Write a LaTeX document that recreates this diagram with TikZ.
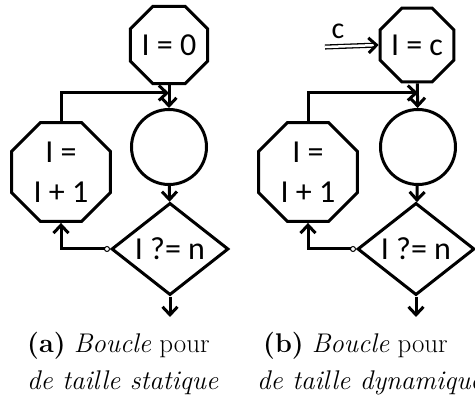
\documentclass[tikz,border=0pt]{standalone}
\usepackage{fontspec}
\newfontfamily\calfont{Carlito}
\usetikzlibrary{shapes.geometric,arrows.meta}
\tikzset{
  oct/.style={regular polygon, regular polygon sides=8, draw, line width=3pt, inner sep=0pt, font=\calfont\fontsize{32}{40}\selectfont, align=center},
  circ/.style={circle, draw, line width=3pt, minimum size=75pt, inner sep=0pt},
  dia/.style={diamond, draw, line width=3pt, minimum width=117pt, minimum height=77pt, inner sep=0pt, font=\calfont\fontsize{32}{40}\selectfont},
  arr/.style={line width=3pt, -{Straight Barb[length=8pt,width=15pt]}},
  capt/.style={anchor=base west, inner sep=0pt, font=\fontsize{27}{37}\selectfont}
}
\begin{document}
\begin{tikzpicture}[x=1pt,y=-1pt]
\useasboundingbox (0,0) rectangle (475,398);
% ---- (a)
\node[oct, minimum size=76pt] (octA) at (169,45) {I = 0};
\node[circ] (cirA) at (169,147) {};
\node[dia] (diaA) at (170,249) {I ?= n};
\node[oct, minimum size=107pt] (bigA) at (61,172) {I =\\[0pt]I + 1};
\coordinate (jA) at (169,93);
\coordinate (endA) at (170,317);
\draw[arr] (octA) -- (cirA);
\draw[arr] (bigA.north) |- (jA);
\draw[arr] (cirA) -- (diaA);
\draw[line width=3pt, {Circle[open,length=6pt,line width=1pt]}-{Straight Barb[length=8pt,width=15pt]}] (diaA.west) -| (bigA.south);
\draw[arr] (diaA.south) -- (endA);
% ---- (b)
\node[oct, minimum size=76pt] (octB) at (417,45) {I = c};
\node[circ] (cirB) at (418,147) {};
\node[dia] (diaB) at (416,249) {I ?= n};
\node[oct, minimum size=107pt] (bigB) at (308,172) {I =\\[0pt]I + 1};
\coordinate (jB) at (418,93);
\coordinate (endB) at (416,317);
\coordinate (cIn) at (325,47);
\draw[arr] (octB) -- (cirB);
\draw[arr] (bigB.north) |- (jB);
\draw[arr] (cirB) -- (diaB);
\draw[line width=3pt, {Circle[open,length=6pt,line width=1pt]}-{Straight Barb[length=8pt,width=15pt]}] (diaB.west) -| (bigB.south);
\draw[arr] (diaB.south) -- (endB);
\draw[double, double distance=2.5pt, line width=1.3pt, -{Straight Barb[length=8pt,width=15pt,line width=3pt]}] (cIn) -- (octB.west);
\node[font=\calfont\fontsize{30}{30}\selectfont, inner sep=0pt] (cl) at (338,31) {c};
% ---- captions
\node[capt] (ca1) at (27,353) {\textbf{(a)} \textit{Boucle} pour};
\node[capt] (ca2) at (27,390) {\textit{de taille statique}};
\node[capt] (cb1) at (263,353) {\textbf{(b)} \textit{Boucle} pour};
\node[capt] (cb2) at (257,390) {\textit{de taille dynamique}};
\end{tikzpicture}
\end{document}
